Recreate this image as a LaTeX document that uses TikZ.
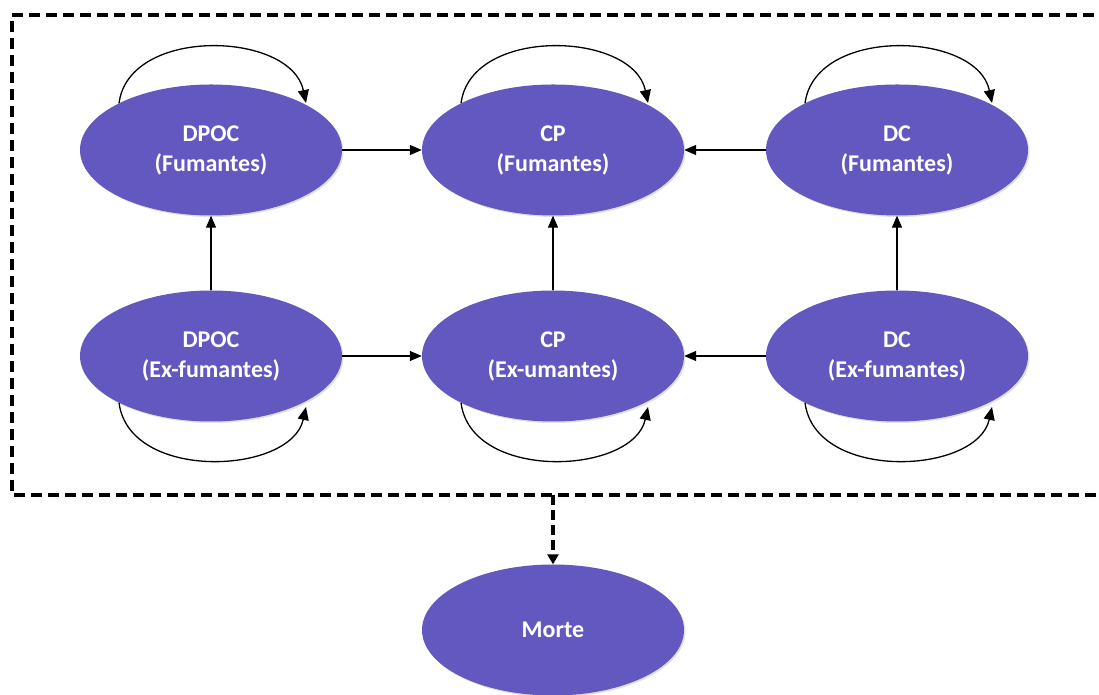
\documentclass[tikz,border=0pt]{standalone}
\usepackage{fontspec}
\setmainfont{Carlito}
\usetikzlibrary{arrows.meta,shapes.geometric,shadows}
\definecolor{statefill}{RGB}{99,87,192}
\tikzset{
  state/.style={ellipse, fill=statefill, minimum width=262pt, minimum height=131pt, inner sep=0pt,
    text=white, font=\bfseries\fontsize{24}{30}\selectfont, align=center,
    drop shadow={shadow xshift=1.5pt, shadow yshift=-1.5pt, opacity=0.25}},
  conn/.style={line width=1.3pt, -{Triangle[length=12pt,width=10pt]}},
  loopc/.style={line width=1.3pt, -{Triangle[length=13pt,width=11pt]}},
  border/.style={line width=3.2pt, dash pattern=on 11pt off 6pt},
}
\begin{document}
\begin{tikzpicture}[x=1pt,y=1pt]
\useasboundingbox (0,0) rectangle (1099,695);
% dashed enclosing box (right edge outside picture)
\draw[border] (1130,200) -- (12,200) -- (12,680) -- (1130,680);
\coordinate (boxbottom) at (553,200);

\node[state] (dpocf) at (211,545) {DPOC\\(Fumantes)};
\node[state] (cpf)   at (553,545) {CP\\(Fumantes)};
\node[state] (dcf)   at (897,545) {DC\\(Fumantes)};
\node[state] (dpoce) at (211,339) {DPOC\\(Ex-fumantes)};
\node[state] (cpe)   at (553,339) {CP\\(Ex-umantes)};
\node[state] (dce)   at (897,339) {DC\\(Ex-fumantes)};
\node[state] (morte) at (553,65)  {Morte};

% horizontal
\draw[conn] (dpocf) -- (cpf);
\draw[conn] (dcf) -- (cpf);
\draw[conn] (dpoce) -- (cpe);
\draw[conn] (dce) -- (cpe);
% vertical
\draw[conn] (dpoce) -- (dpocf);
\draw[conn] (cpe) -- (cpf);
\draw[conn] (dce) -- (dcf);

% self loops top
\foreach \n in {dpocf,cpf,dcf}{
  \draw[loopc] (\n.153) .. controls +(10,77) and +(-15,72) .. ([shift={(95,47)}]\n.center);
}
% self loops bottom
\foreach \n in {dpoce,cpe,dce}{
  \draw[loopc] (\n.207) .. controls +(10,-79) and +(-15,-68) .. ([shift={(95,-51)}]\n.center);
}

% dashed arrow to Morte
\draw[line width=3.2pt, dash pattern=on 10pt off 5pt, -{Triangle[length=10pt,width=11pt]}] (boxbottom) -- (morte.north);
\end{tikzpicture}
\end{document}
